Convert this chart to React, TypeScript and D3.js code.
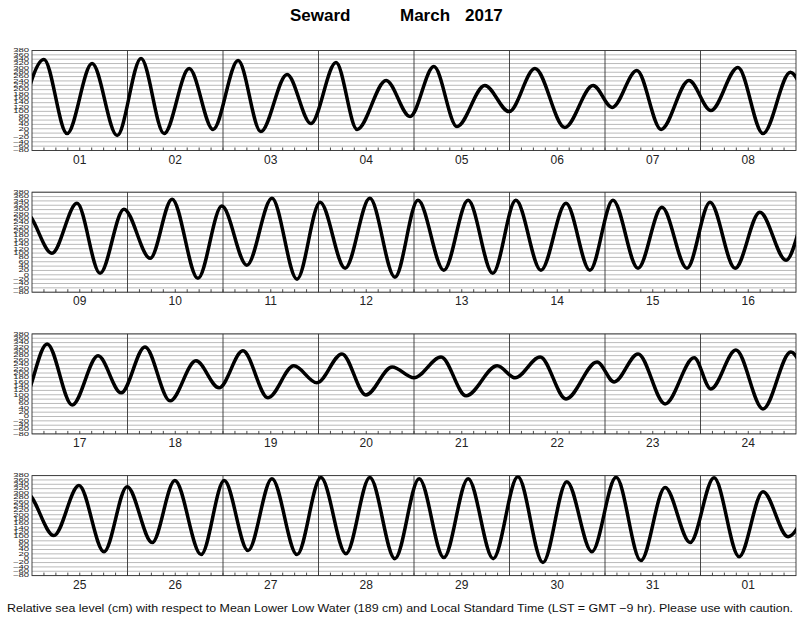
import { useEffect, useRef } from 'react';
import * as d3 from 'd3';

// Day labels under each panel (8 days per panel, Mar 1 .. Apr 1)
const dayLabels = [
  '01', '02', '03', '04', '05', '06', '07', '08',
  '09', '10', '11', '12', '13', '14', '15', '16',
  '17', '18', '19', '20', '21', '22', '23', '24',
  '25', '26', '27', '28', '29', '30', '31', '01',
];

// Y axis labels (cm)
const levelTicks = [380, 360, 340, 320, 300, 280, 260, 240, 220, 200, 180, 160, 140, 120, 100, 80, 60, 40, 20, 0, -20, -40, -60, -80];

// High / low waters: hours since Mar 1 00:00 LST, and level in cm
const tideHours = [
  -3.3, 3.0, 8.8, 15.1, 21.4, 27.4, 33.2, 39.5, 45.5, 51.8, 57.5, 64.1, 70.1, 76.4, 81.7, 89.0, 95.0, 101.0, 106.8, 113.8, 119.9, 126.4, 133.9, 141.0, 145.8, 152.0, 158.1, 165.1, 170.6, 177.4, 183.7, 190.6,
  197.0, 203.3, 209.1, 215.1, 221.7, 227.2, 233.7, 239.7, 246.0, 252.3, 258.6, 264.4, 270.7, 276.9, 283.2, 289.0, 295.5, 301.6, 307.8, 313.6, 319.9, 326.2, 332.2, 338.0, 344.3, 350.3, 356.6, 362.4, 368.7, 374.9, 381.5,
  387.8, 394.1, 400.6, 406.4, 412.4, 418.7, 425.2, 431.0, 437.0, 443.3, 449.8, 455.6, 461.9, 467.9, 474.5, 480.0, 486.8, 493.1, 500.9, 505.4, 511.7, 518.2, 526.0, 530.3, 536.3, 543.1, 550.4, 554.6, 560.9, 567.7, 574.7,
  581.5, 587.8, 594.1, 599.9, 606.2, 611.9, 618.5, 624.3, 630.3, 636.3, 642.6, 648.6, 654.9, 660.9, 667.2, 673.3, 679.5, 685.6, 691.9, 698.1, 704.4, 710.4, 716.7, 722.8, 729.0, 735.1, 741.4, 747.4, 753.7, 759.7, 766.0, 772.3,
];
const tideLevels = [
  20, 339, -2, 320, -11, 343, -2, 297, 17, 334, 7, 270, 44, 325, 17, 242, 76, 306, 30, 219, 99, 297, 26, 219, 118, 288, 17, 242, 104, 302, -2, 280,
  99, 329, 7, 302, 76, 348, -16, 316, 44, 352, -20, 334, 30, 352, -11, 343, 21, 343, 7, 343, 21, 329, 21, 343, 30, 311, 30, 334, 30, 288, 67,
  334, 53, 279, 109, 320, 72, 256, 132, 302, 86, 233, 155, 288, 99, 228, 178, 274, 95, 233, 178, 274, 81, 251, 159, 288, 58, 270, 127, 306, 35, 297,
  104, 334, 30, 329, 72, 357, 17, 357, 35, 366, 17, 371, 21, 371, -2, 366, 3, 366, -2, 375, -20, 352, 30, 372, -11, 325, 72, 370, 7, 306, 99, 320,
];

const TideChart = () => {
  const svgRef = useRef<SVGSVGElement>(null);

  useEffect(() => {
    const width = 800;
    const height = 618;
    const left = 32;
    const right = 796;
    const panelH = 100;
    const panelStep = 141.7;
    const hoursPerPanel = 192;
    const font = '"Liberation Sans", Arial, Helvetica, sans-serif';

    const points = tideHours.map((h, i) => [h, tideLevels[i]] as [number, number]);

    const svg = d3.select(svgRef.current);
    svg.selectAll('*').remove();
    svg.attr('width', width).attr('height', height).style('font-family', font);

    svg.append('rect').attr('width', width).attr('height', height).attr('fill', '#fff');

    // Title
    svg.append('text').attr('x', 290).attr('y', 21).attr('font-size', 17).attr('font-weight', 'bold').text('Seward');
    svg.append('text').attr('x', 400).attr('y', 21).attr('font-size', 17).attr('font-weight', 'bold').text('March');
    svg.append('text').attr('x', 465).attr('y', 21).attr('font-size', 17).attr('font-weight', 'bold').text('2017');

    for (let p = 0; p < 4; p++) {
      const top = 50.5 + p * panelStep;
      const bottom = top + panelH;
      const t0 = p * hoursPerPanel;

      const x = d3.scaleLinear().domain([t0, t0 + hoursPerPanel]).range([left, right]);
      const y = d3.scaleLinear().domain([-80, 380]).range([bottom, top]);

      const g = svg.append('g');

      g.append('clipPath').attr('id', `clip${p}`)
        .append('rect').attr('x', left).attr('y', top).attr('width', right - left).attr('height', panelH);

      // horizontal grid
      g.selectAll('.grid').data(levelTicks).enter().append('line')
        .attr('x1', left).attr('x2', right)
        .attr('y1', d => y(d)).attr('y2', d => y(d))
        .attr('stroke', '#a8a8a8').attr('stroke-width', 0.8);

      // 3-hour ticks on the bottom edge
      g.selectAll('.tick').data(d3.range(t0 + 3, t0 + hoursPerPanel, 3)).enter().append('line')
        .attr('x1', d => x(d)).attr('x2', d => x(d))
        .attr('y1', bottom).attr('y2', bottom - 3)
        .attr('stroke', '#333').attr('stroke-width', 0.9);

      // day separators
      g.selectAll('.day').data(d3.range(1, 8)).enter().append('line')
        .attr('x1', d => x(t0 + d * 24)).attr('x2', d => x(t0 + d * 24))
        .attr('y1', top).attr('y2', bottom)
        .attr('stroke', '#333').attr('stroke-width', 0.9);

      // frame
      g.append('rect').attr('x', left).attr('y', top).attr('width', right - left).attr('height', panelH)
        .attr('fill', 'none').attr('stroke', '#333').attr('stroke-width', 0.9);

      // y labels, squeezed vertically
      g.selectAll('.ylab').data(levelTicks).enter().append('text')
        .attr('transform', d => `translate(29, ${y(d)}) scale(1, 0.6)`)
        .attr('text-anchor', 'end')
        .attr('dominant-baseline', 'central')
        .attr('font-size', 9.5)
        .attr('fill', '#222')
        .text(d => d < 0 ? `\u2212${-d}` : `${d}`);

      // day labels
      g.selectAll('.dlab').data(dayLabels.slice(p * 8, p * 8 + 8)).enter().append('text')
        .attr('x', (_, i) => x(t0 + i * 24 + 12))
        .attr('y', bottom + 13)
        .attr('text-anchor', 'middle')
        .attr('font-size', 12)
        .attr('fill', '#222')
        .text(d => d);

      // tide curve
      const line = d3.line<[number, number]>()
        .x(d => x(d[0]))
        .y(d => y(d[1]))
        .curve(d3.curveMonotoneX);

      g.append('path')
        .datum(points)
        .attr('clip-path', `url(#clip${p})`)
        .attr('fill', 'none')
        .attr('stroke', '#000')
        .attr('stroke-width', 3.5)
        .attr('stroke-linejoin', 'round')
        .attr('d', line);
    }

    // footnote
    svg.append('text')
      .attr('x', 400).attr('y', 612)
      .attr('text-anchor', 'middle')
      .attr('font-size', 11.5)
      .attr('textLength', 786)
      .attr('lengthAdjust', 'spacingAndGlyphs')
      .attr('fill', '#111')
      .text('Relative sea level (cm) with respect to Mean Lower Low Water (189 cm) and Local Standard Time (LST = GMT \u22129 hr). Please use with caution.');
  }, []);

  return <svg ref={svgRef} style={{ position: 'absolute', left: 0, top: 0 }}></svg>;
};

export default function App() {
  return <TideChart />;
}
